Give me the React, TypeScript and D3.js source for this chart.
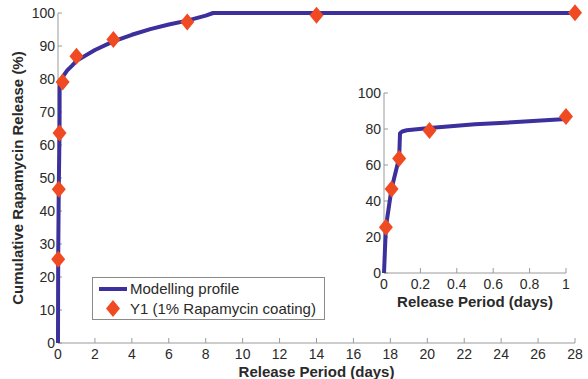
import * as d3 from 'd3';

// measured release samples (days, %)
const sampleDays = [0.0104, 0.0417, 0.0833, 0.25, 1, 3, 7, 14, 28];
const sampleRelease = [25.4, 46.6, 63.6, 79.1, 86.9, 92.0, 97.3, 99.3, 100.1];

// modelling profile
const modelDays = [0, 0.0104, 0.0417, 0.0833, 0.088, 0.1, 0.125, 0.25, 0.5, 0.75, 1, 2, 3, 4, 5, 6, 7, 8, 8.4, 28];
const modelRelease = [0, 25.5, 47, 64, 77.6, 78.6, 79.3, 80.6, 82.6, 84, 85.5, 88.8, 91.4, 93.4, 95.1, 96.5, 97.7, 99.2, 100, 100];

const mainXTicks = d3.range(0, 29, 2);
const mainYTicks = d3.range(0, 101, 10);
const insetXTicks = [0, 0.2, 0.4, 0.6, 0.8, 1];
const insetYTicks = [0, 20, 40, 60, 80, 100];

const legendLabels = ['Modelling profile', 'Y1 (1% Rapamycin coating)'];
const axisLabelX = 'Release Period (days)';
const axisLabelY = 'Cumulative Rapamycin Release (%)';

const W = 588;
const H = 379;
const FONT = '"Liberation Sans", Arial, Helvetica, sans-serif';
const LINE = '#3c309c';
const MARK = '#f04a22';
const AXIS = '#9a9a9a';
const TEXT = '#2a2a2a';

const Diamond = ({ x, y, w = 7, h = 8.5 }: { x: number; y: number; w?: number; h?: number }) => (
  <path d={`M${x},${y - h}L${x + w},${y}L${x},${y + h}L${x - w},${y}Z`} fill={MARK} />
);

interface PanelProps {
  x: d3.ScaleLinear<number, number>;
  y: d3.ScaleLinear<number, number>;
  xTicks: number[];
  yTicks: number[];
  maxDay: number;
  tickLabelBaseline: number;
  xLabelY: number;
  xFmt: (v: number) => string;
}

const Panel = ({ x, y, xTicks, yTicks, maxDay, tickLabelBaseline, xLabelY, xFmt }: PanelProps) => {
  const [x0, x1] = x.range();
  const [y0, y1] = y.range();
  const pts = modelDays
    .map((d, i) => [d, modelRelease[i]] as [number, number])
    .filter(p => p[0] <= maxDay + 1e-9);
  const line = d3.line<[number, number]>().x(p => x(p[0])).y(p => y(p[1]));
  return (
    <g>
      <line x1={x0} x2={x1} y1={y0} y2={y0} stroke={AXIS} strokeWidth={1} />
      <line x1={x0} x2={x0} y1={y0} y2={y1} stroke={AXIS} strokeWidth={1} />
      {xTicks.map(t => (
        <g key={'x' + t}>
          <line x1={x(t)} x2={x(t)} y1={y0} y2={y0 - 5} stroke={AXIS} />
          <text x={x(t)} y={tickLabelBaseline} textAnchor="middle" fontSize={14} fill={TEXT}>
            {xFmt(t)}
          </text>
        </g>
      ))}
      {yTicks.map(t => (
        <g key={'y' + t}>
          <line x1={x0} x2={x0 + 4} y1={y(t)} y2={y(t)} stroke={AXIS} />
          <text x={x0 - 3} y={y(t)} dy="0.35em" textAnchor="end" fontSize={14} fill={TEXT}>
            {t}
          </text>
        </g>
      ))}
      <path d={line(pts) || ''} fill="none" stroke={LINE} strokeWidth={4} strokeLinejoin="round" />
      {sampleDays.map((d, i) =>
        d <= maxDay + 1e-9 ? <Diamond key={'m' + i} x={x(d)} y={y(sampleRelease[i])} /> : null
      )}
      <text x={(x0 + x1) / 2} y={xLabelY} textAnchor="middle" fontSize={15} fontWeight="bold" fill={TEXT}>
        {axisLabelX}
      </text>
    </g>
  );
};

export default function App() {
  const mx = d3.scaleLinear().domain([0, 28]).range([58, 575]);
  const my = d3.scaleLinear().domain([0, 100]).range([343, 13]);
  const ix = d3.scaleLinear().domain([0, 1]).range([384, 566]);
  const iy = d3.scaleLinear().domain([0, 100]).range([273, 93]);

  return (
    <svg
      width={W}
      height={H}
      style={{ position: 'absolute', left: 0, top: 0, background: '#fff' }}
      fontFamily={FONT}
    >
      <Panel
        x={mx}
        y={my}
        xTicks={mainXTicks}
        yTicks={mainYTicks}
        maxDay={28}
        tickLabelBaseline={359}
        xLabelY={376.5}
        xFmt={v => String(v)}
      />
      <text
        transform={`translate(23,${(13 + 343) / 2}) rotate(-90)`}
        textAnchor="middle"
        fontSize={15}
        fontWeight="bold"
        fill={TEXT}
      >
        {axisLabelY}
      </text>
      <Panel
        x={ix}
        y={iy}
        xTicks={insetXTicks}
        yTicks={insetYTicks}
        maxDay={1}
        tickLabelBaseline={289}
        xLabelY={306.5}
        xFmt={v => d3.format('~g')(v)}
      />
      <g>
        <rect x={92.5} y={277.5} width={232} height={42} fill="#fff" stroke="#8a8a8a" strokeWidth={1} />
        <line x1={99} x2={127} y1={289} y2={289} stroke={LINE} strokeWidth={4} />
        <Diamond x={113} y={308.5} />
        <text x={130} y={289} dy="0.35em" fontSize={15} fill={TEXT}>
          {legendLabels[0]}
        </text>
        <text x={130} y={308.5} dy="0.35em" fontSize={15} fill={TEXT}>
          {legendLabels[1]}
        </text>
      </g>
    </svg>
  );
}
